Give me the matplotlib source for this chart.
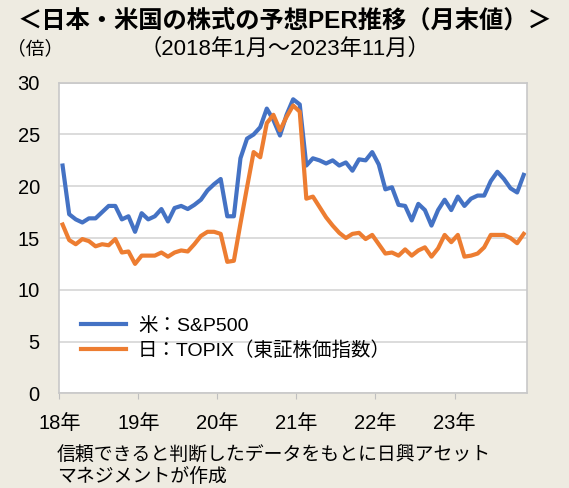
import numpy as np
import matplotlib
matplotlib.use('Agg')
import matplotlib.pyplot as plt

plt.rcParams['font.family'] = ['Liberation Sans', 'Noto Sans CJK JP']

# Monthly forward PER, Jan 2018 - Nov 2023 (month-end)
sp500 = [22.0, 17.3, 16.8, 16.5, 16.9, 16.9, 17.5, 18.1, 18.1, 16.8, 17.1, 15.6,
         17.4, 16.8, 17.1, 17.8, 16.6, 17.9, 18.1, 17.8, 18.2, 18.7, 19.6, 20.2,
         20.7, 17.1, 17.1, 22.7, 24.6, 25.0, 25.7, 27.5, 26.4, 24.9, 26.9, 28.4,
         27.9, 22.0, 22.7, 22.5, 22.2, 22.5, 22.0, 22.3, 21.5, 22.6, 22.5, 23.3,
         22.1, 19.7, 19.9, 18.2, 18.1, 16.7, 18.3, 17.7, 16.2, 17.7, 18.7, 17.7,
         19.0, 18.1, 18.8, 19.1, 19.1, 20.5, 21.4, 20.7, 19.8, 19.4, 21.1]
topix = [16.3, 14.8, 14.4, 14.9, 14.7, 14.2, 14.4, 14.3, 14.9, 13.6, 13.7, 12.5,
         13.3, 13.3, 13.3, 13.6, 13.2, 13.6, 13.8, 13.7, 14.4, 15.2, 15.6, 15.6,
         15.4, 12.7, 12.8, 16.4, 19.9, 23.3, 22.8, 26.1, 26.9, 25.4, 26.7, 27.8,
         27.2, 18.8, 19.0, 18.0, 17.0, 16.2, 15.5, 15.0, 15.4, 15.5, 14.9, 15.3,
         14.4, 13.5, 13.6, 13.3, 13.9, 13.3, 13.8, 14.1, 13.2, 14.0, 15.3, 14.6,
         15.3, 13.2, 13.3, 13.5, 14.1, 15.3, 15.3, 15.3, 15.0, 14.5, 15.4]
year_labels = ['18年', '19年', '20年', '21年', '22年', '23年']
y_ticks = [0, 5, 10, 15, 20, 25, 30]

bg = '#EEEBE1'
fig = plt.figure(figsize=(5.69, 4.88), dpi=100, facecolor=bg)
ax = fig.add_axes([0.1042, 0.194, 0.822, 0.6365])
ax.set_facecolor('white')

x = np.arange(len(sp500))
ax.plot(x, sp500, color='#4472C4', lw=3.0, solid_joinstyle='round', label='米：S&P500')
ax.plot(x, topix, color='#ED7D31', lw=3.0, solid_joinstyle='round', label='日：TOPIX（東証株価指数）')

ax.set_xlim(-0.5, len(sp500) - 0.5)
ax.set_ylim(0, 30)
ax.set_yticks(y_ticks)
ax.yaxis.grid(True, color='#D9D9D9', lw=1.3)
ax.set_axisbelow(True)
ax.set_xticks(np.arange(len(year_labels)) * 12 - 0.5)
ax.set_xticklabels(year_labels)
ax.tick_params(axis='x', length=4, color='#BFBFBF', labelsize=14.5, pad=11)
ax.tick_params(axis='y', length=0, labelsize=14.5, pad=14)
for s in ax.spines.values():
    s.set_color('#C8C8C8')
    s.set_linewidth(1.2)

ax.legend(loc='lower left', bbox_to_anchor=(0.01, 0.05), frameon=False,
          fontsize=14, handlelength=2.3, handletextpad=0.6, labelspacing=0.35)

fig.text(0.5, 0.958, '＜日本・米国の株式の予想PER推移（月末値）＞', ha='center', va='center',
         fontsize=17.5, fontweight='bold')
fig.text(0.5, 0.898, '（2018年1月～2023年11月）', ha='center', va='center', fontsize=16)
fig.text(0.012, 0.898, '（倍）', ha='left', va='center', fontsize=13.5)
fig.text(0.1, 0.068, '信頼できると判断したデータをもとに日興アセット', ha='left', va='center', fontsize=13.6)
fig.text(0.1, 0.022, 'マネジメントが作成', ha='left', va='center', fontsize=13.6)

fig.savefig('out.png', dpi=100, facecolor=bg)
